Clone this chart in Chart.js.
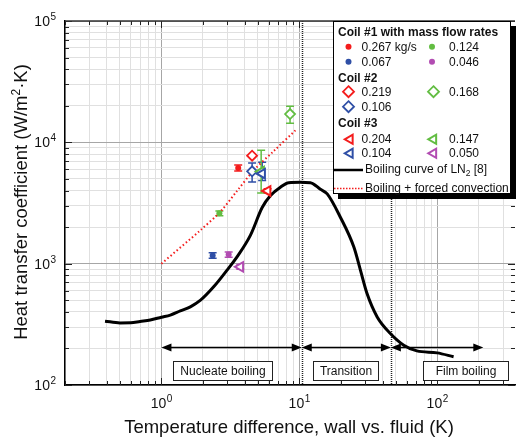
<!DOCTYPE html>
<html>
<head>
<meta charset="utf-8">
<script src="https://cdn.jsdelivr.net/npm/chart.js@4.4.0/dist/chart.umd.min.js"></script>
<style>
  html, body { margin: 0; padding: 0; background: #fff; }
  #wrap { width: 516px; height: 437px; position: relative; }
</style>
</head>
<body>
<div id="wrap"><canvas id="chart"></canvas></div>
<script>
// Boiling curve of LN2 (ref [8])
const boilX = [0.39, 0.5, 0.6, 0.7, 0.83, 1.0, 1.16, 1.37, 1.62, 1.92, 2.39, 2.99, 3.53, 4.42, 5.37, 6.17, 7.28, 8.38, 10.2, 12.0, 14.2, 15.9, 19.8, 24.8, 27.7, 30.9, 36.6, 45.6, 57, 71, 99.5, 131];
const boilY = [336, 325, 326, 334, 343, 362, 377, 408, 441, 500, 644, 885, 1138, 1720, 2900, 3640, 4270, 4650, 4680, 4650, 4100, 3760, 2415, 1370, 881, 567, 364, 266, 213, 191, 184, 171];

// Boiling + forced convection
const convX = [1, 1.92, 2.68, 3.5, 4.67, 6.5, 9.35];
const convY = [1000, 1890, 2690, 3930, 5890, 8450, 12550];

// Coil #1 (mass flow rates)
const coil1Labels = ['0.267 kg/s', '0.124', '0.067', '0.046'];
const coil1X = [3.6, 2.63, 2.35, 3.07];
const coil1Y = [6150, 2600, 1170, 1190];
const coil1Lo = [5800, 2480, 1110, 1130];
const coil1Hi = [6500, 2720, 1230, 1250];

// Coil #2
const coil2Labels = ['0.219', '0.168', '0.106'];
const coil2X = [4.54, 8.55, 4.54];
const coil2Y = [7760, 17100, 5770];
const coil2Lo = [null, 14350, 4710];
const coil2Hi = [null, 19800, 6760];

// Coil #3
const coil3Labels = ['0.204', '0.147', '0.104', '0.050'];
const coil3X = [5.88, 5.28, 5.37, 3.73];
const coil3Y = [3980, 5740, 5520, 941];
const coil3Lo = [3800, 3830, 4840, 900];
const coil3Hi = [4150, 8590, 6860, 985];

// regime boundaries and arrow ends
const regimeX = [1, 10.4, 46, 215];
const regimeNames = ['Nucleate boiling', 'Transition', 'Film boiling'];

const xTickExp = [0, 1, 2];
const yTickExp = [2, 3, 4, 5];

const RED = '#f41c1c', GREEN = '#62bd42', BLUE = '#2f4fa6', MAGENTA = '#b24cb2';
const coil1Colors = [RED, GREEN, BLUE, MAGENTA];
const coil2Colors = [RED, GREEN, BLUE];
const coil3Colors = [RED, GREEN, BLUE, MAGENTA];

const FONT = '"Liberation Sans", Arial, sans-serif';

function pts(xs, ys) { return xs.map((x, i) => ({ x: x, y: ys[i] })); }

const datasets = [];
// draw order: first dataset ends up on top
[2, 0, 3, 1].forEach(i => datasets.push({
  label: coil3Labels[i], data: [{ x: coil3X[i], y: coil3Y[i] }], showLine: false,
  pointStyle: 'triangle', rotation: 270, pointRadius: 5.5, pointBorderWidth: 2,
  borderColor: coil3Colors[i], backgroundColor: '#fff', errLo: coil3Lo[i], errHi: coil3Hi[i]
}));
coil2X.forEach((x, i) => datasets.push({
  label: coil2Labels[i], data: [{ x: x, y: coil2Y[i] }], showLine: false,
  pointStyle: 'rectRot', pointRadius: 5, pointBorderWidth: 1.8,
  borderColor: coil2Colors[i], backgroundColor: '#fff', errLo: coil2Lo[i], errHi: coil2Hi[i]
}));
coil1X.forEach((x, i) => datasets.push({
  label: coil1Labels[i], data: [{ x: x, y: coil1Y[i] }], showLine: false,
  pointStyle: 'circle', pointRadius: 3, pointBorderWidth: 0,
  borderColor: coil1Colors[i], backgroundColor: coil1Colors[i], errLo: coil1Lo[i], errHi: coil1Hi[i]
}));
datasets.push({
  label: 'Boiling + forced convection', data: pts(convX, convY),
  borderColor: RED, borderWidth: 2, borderDash: [1.5, 2.5], pointRadius: 0, tension: 0.3
});
datasets.push({
  label: 'Boiling curve of LN2 [8]', data: pts(boilX, boilY),
  borderColor: '#000', borderWidth: 3, pointRadius: 0, cubicInterpolationMode: 'monotone'
});

function isDecade(v) {
  const l = Math.log10(v);
  return Math.abs(l - Math.round(l)) < 1e-6;
}
function isNice(v) {
  const m = v / Math.pow(10, Math.floor(Math.log10(v) + 1e-9));
  return Math.abs(m - Math.round(m)) < 1e-6;
}
function gridColor(c) {
  const v = c.tick && c.tick.value;
  if (!v || !isNice(v)) return 'rgba(0,0,0,0)';
  return isDecade(v) ? '#a6a6a6' : '#e0e0e0';
}

function drawPow(ctx, exp, x, y, align) {
  ctx.font = '14px ' + FONT;
  const bw = ctx.measureText('10').width;
  ctx.font = '10px ' + FONT;
  const ew = ctx.measureText(String(exp)).width;
  const total = bw + ew + 0.5;
  const x0 = align === 'right' ? x - total : x - total / 2;
  ctx.textAlign = 'left';
  ctx.textBaseline = 'alphabetic';
  ctx.font = '14px ' + FONT;
  ctx.fillText('10', x0, y);
  ctx.font = '10px ' + FONT;
  ctx.fillText(String(exp), x0 + bw + 0.5, y - 6);
}

function arrowHead(ctx, x, y, dir) {
  ctx.beginPath();
  ctx.moveTo(x, y);
  ctx.lineTo(x - dir * 10, y - 4);
  ctx.lineTo(x - dir * 10, y + 4);
  ctx.closePath();
  ctx.fill();
}

function drawDiamond(ctx, x, y, r, color) {
  ctx.beginPath();
  ctx.moveTo(x, y - r); ctx.lineTo(x + r, y); ctx.lineTo(x, y + r); ctx.lineTo(x - r, y); ctx.closePath();
  ctx.fillStyle = '#fff'; ctx.fill();
  ctx.strokeStyle = color; ctx.lineWidth = 1.8; ctx.stroke();
}
function drawTri(ctx, x, y, r, color) {
  ctx.beginPath();
  ctx.moveTo(x - r, y);
  ctx.lineTo(x + r / 2, y - r * 0.866);
  ctx.lineTo(x + r / 2, y + r * 0.866);
  ctx.closePath();
  ctx.fillStyle = '#fff'; ctx.fill();
  ctx.strokeStyle = color; ctx.lineWidth = 2; ctx.stroke();
}

const extras = {
  id: 'extras',
  beforeDatasetsDraw(chart) {
    const ctx = chart.ctx, a = chart.chartArea;
    const xs = chart.scales.x, ys = chart.scales.y;
    ctx.save();
    // regime boundaries
    ctx.strokeStyle = '#222';
    ctx.lineWidth = 1.5;
    ctx.setLineDash([1, 1]);
    [regimeX[1], regimeX[2]].forEach(v => {
      const px = Math.round(xs.getPixelForValue(v)) + 0.5;
      ctx.beginPath(); ctx.moveTo(px, a.top); ctx.lineTo(px, a.bottom); ctx.stroke();
    });
    ctx.setLineDash([]);
    // error bars
    chart.data.datasets.forEach(ds => {
      if (ds.errLo == null) return;
      const p = ds.data[0];
      const px = xs.getPixelForValue(p.x);
      const y1 = ys.getPixelForValue(ds.errLo), y2 = ys.getPixelForValue(ds.errHi);
      ctx.strokeStyle = ds.borderColor;
      ctx.lineWidth = 1.5;
      ctx.beginPath();
      ctx.moveTo(px, y1); ctx.lineTo(px, y2);
      ctx.moveTo(px - 4, y1); ctx.lineTo(px + 4, y1);
      ctx.moveTo(px - 4, y2); ctx.lineTo(px + 4, y2);
      ctx.stroke();
    });
    ctx.restore();
  },
  afterDatasetsDraw(chart) {
    const ctx = chart.ctx, a = chart.chartArea;
    const xs = chart.scales.x, ys = chart.scales.y;
    ctx.save();
    // inner ticks
    ctx.strokeStyle = '#222';
    ctx.lineWidth = 1;
    ctx.beginPath();
    xs.ticks.forEach(t => {
      if (!isNice(t.value)) return;
      const px = Math.round(xs.getPixelForValue(t.value)) + 0.5;
      const len = isDecade(t.value) ? 7 : 4;
      ctx.moveTo(px, a.bottom); ctx.lineTo(px, a.bottom - len);
      ctx.moveTo(px, a.top); ctx.lineTo(px, a.top + len);
    });
    ys.ticks.forEach(t => {
      if (!isNice(t.value)) return;
      const py = Math.round(ys.getPixelForValue(t.value)) + 0.5;
      const len = isDecade(t.value) ? 7 : 4;
      ctx.moveTo(a.left, py); ctx.lineTo(a.left + len, py);
      ctx.moveTo(a.right, py); ctx.lineTo(a.right - len, py);
    });
    ctx.stroke();
    // top border
    ctx.strokeStyle = '#333';
    ctx.lineWidth = 1.5;
    ctx.beginPath(); ctx.moveTo(a.left, a.top); ctx.lineTo(a.right, a.top); ctx.stroke();

    // regime arrows
    const ay = Math.round(ys.getPixelForValue(205)) + 0.5;
    ctx.strokeStyle = '#000'; ctx.fillStyle = '#000'; ctx.lineWidth = 1.5;
    for (let i = 0; i < 3; i++) {
      const x1 = xs.getPixelForValue(regimeX[i]), x2 = xs.getPixelForValue(regimeX[i + 1]);
      ctx.beginPath(); ctx.moveTo(x1 + 4, ay); ctx.lineTo(x2 - 4, ay); ctx.stroke();
      arrowHead(ctx, x1, ay, -1);
      arrowHead(ctx, x2, ay, 1);
    }
    // regime label boxes
    const boxSpans = [[1.22, 6.37], [12.6, 37.4], [79.2, 326]];
    const by = ys.getPixelForValue(131.7);
    ctx.font = '12px ' + FONT;
    ctx.textAlign = 'center'; ctx.textBaseline = 'middle';
    boxSpans.forEach((s, i) => {
      const x1 = Math.round(xs.getPixelForValue(s[0])) + 0.5;
      const x2 = Math.round(xs.getPixelForValue(s[1])) + 0.5;
      const y1 = Math.round(by - 9.5) + 0.5;
      ctx.fillStyle = '#fff';
      ctx.fillRect(x1, y1, x2 - x1, 19);
      ctx.strokeStyle = '#222'; ctx.lineWidth = 1;
      ctx.strokeRect(x1, y1, x2 - x1, 19);
      ctx.fillStyle = '#111';
      ctx.fillText(regimeNames[i], (x1 + x2) / 2, y1 + 10);
    });

    // legend
    const L = 333, T = 21, W = 178, H = 173;
    ctx.fillStyle = '#000';
    ctx.fillRect(L + 5, T + 5, W, H);
    ctx.fillStyle = '#fff';
    ctx.fillRect(L, T, W, H);
    ctx.strokeStyle = '#000'; ctx.lineWidth = 1;
    ctx.strokeRect(L + 0.5, T + 0.5, W - 1, H - 1);

    const colM = [348.5, 432], colT = [361.5, 449];
    ctx.textAlign = 'left';
    ctx.fillStyle = '#111';
    ctx.textBaseline = 'alphabetic';
    ctx.font = 'bold 12px ' + FONT;
    ctx.fillText('Coil #1 with mass flow rates', 338, 36);
    ctx.fillText('Coil #2', 338, 81.5);
    ctx.fillText('Coil #3', 338, 126.5);

    ctx.font = '12px ' + FONT;
    ctx.textBaseline = 'middle';
    const rows1 = [46.7, 61.7], rows2 = [91.7, 106.7], rows3 = [139.3, 153.3];
    coil1Labels.forEach((lab, i) => {
      const c = i % 2, r = Math.floor(i / 2);
      ctx.fillStyle = coil1Colors[i];
      ctx.beginPath(); ctx.arc(colM[c], rows1[r], 3, 0, Math.PI * 2); ctx.fill();
      ctx.fillStyle = '#111';
      ctx.fillText(lab, colT[c], rows1[r] + 0.5);
    });
    coil2Labels.forEach((lab, i) => {
      const c = i % 2, r = Math.floor(i / 2);
      drawDiamond(ctx, colM[c] + c * 1.5, rows2[r], 5.5, coil2Colors[i]);
      ctx.fillStyle = '#111';
      ctx.fillText(lab, colT[c], rows2[r] + 0.5);
    });
    coil3Labels.forEach((lab, i) => {
      const c = i % 2, r = Math.floor(i / 2);
      drawTri(ctx, colM[c] + 1.5, rows3[r], 5.3, coil3Colors[i]);
      ctx.fillStyle = '#111';
      ctx.fillText(lab, colT[c], rows3[r] + 0.5);
    });
    // line entries
    ctx.strokeStyle = '#000'; ctx.lineWidth = 2.5;
    ctx.beginPath(); ctx.moveTo(L + 1, 170); ctx.lineTo(363, 170); ctx.stroke();
    ctx.fillStyle = '#111';
    ctx.fillText('Boiling curve of LN', 365, 170);
    let w = ctx.measureText('Boiling curve of LN').width;
    ctx.font = '8.5px ' + FONT;
    ctx.fillText('2', 365 + w, 174);
    const w2 = ctx.measureText('2').width;
    ctx.font = '12px ' + FONT;
    ctx.fillText(' [8]', 365 + w + w2, 170);

    ctx.strokeStyle = RED; ctx.lineWidth = 1.5;
    ctx.setLineDash([1.5, 1.5]);
    ctx.beginPath(); ctx.moveTo(L + 1, 188.5); ctx.lineTo(363, 188.5); ctx.stroke();
    ctx.setLineDash([]);
    ctx.fillText('Boiling + forced convection', 365, 188.5);
    ctx.restore();
  },
  afterDraw(chart) {
    const ctx = chart.ctx;
    const xs = chart.scales.x, ys = chart.scales.y;
    ctx.save();
    ctx.fillStyle = '#111';
    xTickExp.forEach(e => drawPow(ctx, e, xs.getPixelForValue(Math.pow(10, e)), 408, 'center'));
    yTickExp.forEach(e => drawPow(ctx, e, 56, ys.getPixelForValue(Math.pow(10, e)) + 5, 'right'));

    ctx.font = '18.5px ' + FONT;
    ctx.textAlign = 'center';
    ctx.textBaseline = 'alphabetic';
    ctx.fillText('Temperature difference, wall vs. fluid (K)', 289, 433);

    ctx.translate(22, 202);
    ctx.rotate(-Math.PI / 2);
    ctx.textBaseline = 'middle';
    ctx.font = '18.5px ' + FONT;
    const t1 = 'Heat transfer coefficient (W/m', t2 = '\u00B7K)';
    const w1 = ctx.measureText(t1).width, w3 = ctx.measureText(t2).width;
    ctx.font = '12px ' + FONT;
    const w2 = ctx.measureText('2').width;
    const x0 = -(w1 + w2 + w3) / 2;
    ctx.textAlign = 'left';
    ctx.font = '18.5px ' + FONT;
    ctx.fillText(t1, x0, 0);
    ctx.font = '12px ' + FONT;
    ctx.fillText('2', x0 + w1, -5);
    ctx.font = '18.5px ' + FONT;
    ctx.fillText(t2, x0 + w1 + w2, 0);
    ctx.restore();
  }
};

new Chart(document.getElementById('chart'), {
  type: 'line',
  data: { datasets: datasets },
  options: {
    responsive: true,
    maintainAspectRatio: false,
    animation: false,
    layout: { autoPadding: false, padding: { left: 65, right: 1, top: 21, bottom: 52 } },
    plugins: { legend: { display: false }, tooltip: { enabled: false } },
    scales: {
      x: {
        type: 'logarithmic', min: 0.2, max: 365,
        ticks: { display: false },
        grid: { color: gridColor, drawTicks: false, lineWidth: 1 },
        border: { color: '#000', width: 1.5 }
      },
      y: {
        type: 'logarithmic', min: 100, max: 100000,
        ticks: { display: false },
        grid: { color: gridColor, drawTicks: false, lineWidth: 1 },
        border: { color: '#000', width: 1.5 }
      }
    }
  },
  plugins: [extras]
});
</script>
</body>
</html>
